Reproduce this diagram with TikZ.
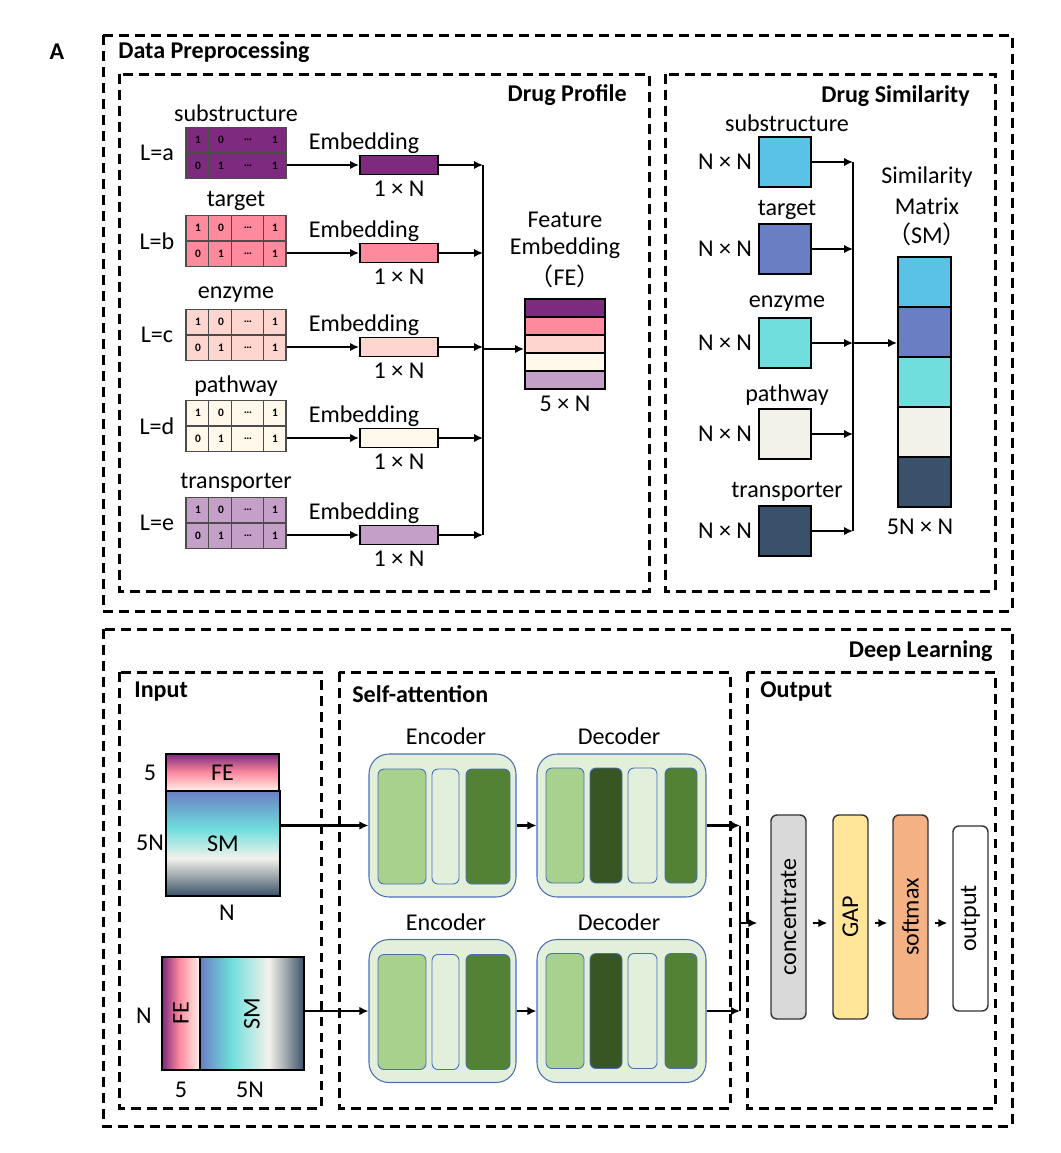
\documentclass[tikz,border=0pt]{standalone}
\usepackage{graphicx}
\usepackage{fontspec}
\setmainfont{Carlito}
\newfontfamily\cjk{Noto Sans CJK SC}
\usetikzlibrary{arrows.meta,positioning}
\newcommand{\pxu}{0.2mm}
\definecolor{cSub}{HTML}{7D2A7F}
\definecolor{cTar}{HTML}{FF8A9E}
\definecolor{cEnz}{HTML}{FFD6CF}
\definecolor{cPath}{HTML}{FFF8EB}
\definecolor{cTrans}{HTML}{C4A0C9}
\definecolor{cCream}{HTML}{FFF1EA}
\definecolor{cSky}{HTML}{5BC2E7}
\definecolor{cSlate}{HTML}{6A7FC3}
\definecolor{cTurq}{HTML}{6FDEDD}
\definecolor{cOff}{HTML}{F2F2EB}
\definecolor{cDark}{HTML}{39516A}
\definecolor{cGrey}{HTML}{A3ABB0}
\definecolor{cEncBg}{HTML}{E2EFDA}
\definecolor{cEncLine}{HTML}{4A6FB5}
\definecolor{cLight}{HTML}{A9D18E}
\definecolor{cMid}{HTML}{548235}
\definecolor{cDeep}{HTML}{375623}
\definecolor{cConc}{HTML}{D9D9D9}
\definecolor{cGap}{HTML}{FFE699}
\definecolor{cSoft}{HTML}{F4B183}
% gradients of the input matrices
\pgfdeclareverticalshading{feVert}{100bp}{color(0bp)=(cCream); color(25bp)=(cCream); color(50bp)=(cTar); color(75bp)=(cSub); color(100bp)=(cSub)}
\pgfdeclarehorizontalshading{feHorz}{100bp}{color(0bp)=(cSub); color(25bp)=(cSub); color(48bp)=(cTar); color(75bp)=(cCream); color(100bp)=(cCream)}
\pgfdeclareverticalshading{smVert}{100bp}{color(0bp)=(cDark); color(25bp)=(cDark); color(35bp)=(cGrey); color(43bp)=(cOff); color(57bp)=(cTurq); color(75bp)=(cSlate); color(100bp)=(cSlate)}
\pgfdeclarehorizontalshading{smHorz}{100bp}{color(0bp)=(cSlate); color(25bp)=(cSlate); color(40bp)=(cTurq); color(58bp)=(cOff); color(66bp)=(cGrey); color(75bp)=(cDark); color(100bp)=(cDark)}
\begin{document}
\begin{tikzpicture}
  [x=\pxu, y=-\pxu, font=\fontsize{13.7}{16}\selectfont,
   frame/.style={draw, line width=0.6mm, dash pattern=on 1.9mm off 1.3mm},
   title/.style={font=\fontsize{13.7}{16}\selectfont\bfseries, inner sep=0},
   mat/.style={draw=black!70, line width=0.6pt, minimum width=100*\pxu, minimum height=51*\pxu, inner sep=0},
   grid/.style={draw=black!70, line width=0.6pt},
   cell/.style={font=\fontsize{6.5}{7}\selectfont\bfseries, inner sep=0},
   emb/.style={draw, line width=1.1pt, minimum width=78*\pxu, minimum height=19*\pxu, inner sep=0},
   stack/.style={draw, line width=1.1pt, minimum width=80*\pxu, minimum height=18*\pxu, inner sep=0},
   simbox/.style={draw, line width=1.1pt, minimum width=52*\pxu, minimum height=50*\pxu, inner sep=0},
   inbox/.style={draw, line width=1.1pt, inner sep=0},
   encbg/.style={draw=cEncLine, fill=cEncBg, line width=0.6pt, rounded corners=4mm, inner sep=0},
   blk/.style={draw=cEncLine, line width=0.5pt, rounded corners=1.2mm, inner sep=0},
   outbox/.style={draw=black!80, line width=0.8pt, rounded corners=1.2mm, minimum width=35*\pxu, inner sep=0},
   bus/.style={line width=1.3pt},
   arr/.style={-{Latex[length=1.8mm,width=1.7mm]}, line width=1.3pt}]
\useasboundingbox (0,0) rectangle (1061,1153);
% frames
\draw [frame] (103,35) rectangle (1012,611);
\draw [frame] (119,74) rectangle (649,591);
\draw [frame] (665,74) rectangle (995,591);
\draw [frame] (103,629) rectangle (1012,1126);
\draw [frame] (119,672) rectangle (321,1108);
\draw [frame] (339,672) rectangle (730,1108);
\draw [frame] (747,672) rectangle (995,1108);
\node at (57,52) (tA) [title] {A};
\node at (118,52) (tData) [title, anchor=west] {Data Preprocessing};
\node at (627,95) (tProf) [title, anchor=east] {Drug Profile};
\node at (970,96) (tSim) [title, anchor=east] {Drug Similarity};
\node at (993,651) (tDeep) [title, anchor=east] {Deep Learning};
\node at (134,692) (tIn) [title, anchor=west] {Input};
\node at (352,694) (tAtt) [title, anchor=west] {Self-attention};
\node at (760,691) (tOut) [title, anchor=west] {Output};
%
% drug profile
\foreach \n/\y/\col/\lab/\ltr in {1/153/cSub/substructure/a, 2/241/cTar/target/b,
    3/335/cEnz/enzyme/c, 4/426/cPath/pathway/d, 5/523/cTrans/transporter/e}{
  \node at (236,\y) (m\n) [mat, fill=\col] {};
  \draw [grid] (m\n.west) -- (m\n.east);
  \foreach \cx in {23,46,78}
    \draw [grid] ([xshift=\cx*\pxu]m\n.north west) -- ([xshift=\cx*\pxu]m\n.south west);
  \node at (198,\y-13) (c\n a) [cell] {1};
  \node at (221,\y-13) (c\n b) [cell] {0};
  \node at (248,\y-13) (c\n c) [cell] {…};
  \node at (275,\y-13) (c\n d) [cell] {1};
  \node at (198,\y+13) (c\n e) [cell] {0};
  \node at (221,\y+13) (c\n f) [cell] {1};
  \node at (248,\y+13) (c\n g) [cell] {…};
  \node at (275,\y+13) (c\n h) [cell] {1};
  \node at (236,\y-40) (ml\n) {\lab};
  \node at (157,\y) (mL\n) {L=\ltr};
  \node at (399,\y+12) (e\n) [emb, fill=\col] {};
  \node at (364,\y-10) (el\n) {Embedding};
  \node at (399,\y+36) (en\n) {1 × N};
  \coordinate (b\n) at (483,\y+12);
  \draw [arr] (m\n.east |- e\n) -- (e\n.west);
  \draw [arr] (e\n.east) -- (b\n);
}
\draw [bus] (b1) -- (b5);
\foreach \k/\col in {1/cSub,2/cTar,3/cEnz,4/cPath,5/cTrans}
  \node at (565,290+18*\k) (fe\k) [stack, fill=\col] {};
\coordinate (bj) at (483,349);
\draw [arr] (bj) -- (fe3.west |- bj);
\node at (565,220) (feA) {Feature};
\node at (565,248) (feB) {Embedding};
\node at (565,276) (feC) {{\cjk （}FE{\cjk ）}};
\node at (565,404) (feD) {5 × N};
%
% drug similarity
\foreach \k/\y/\col/\lab in {1/162/cSky/substructure, 2/249/cSlate/target,
    3/343/cTurq/enzyme, 4/434/cOff/pathway, 5/531/cDark/transporter}{
  \node at (785,\y) (s\k) [simbox, fill=\col] {};
  \node at (787,\y-39) (sl\k) {\lab};
  \node at (725,\y) (sn\k) {N × N};
  \coordinate (sb\k) at (853,\y);
  \draw [arr] (s\k.east) -- (sb\k);
}
\draw [bus] (sb1) -- (sb5);
\foreach \k/\col in {1/cSky,2/cSlate,3/cTurq,4/cOff,5/cDark}
  \node at (924.5,232+50*\k) (sm\k) [simbox, minimum width=53*\pxu, fill=\col] {};
\draw [arr] (sb3) -- (sm2.west |- sb3);
\node at (927,177) (smA) {Similarity};
\node at (927,206) (smB) {Matrix};
\node at (927,234) (smC) {{\cjk （}SM{\cjk ）}};
\node at (920,527) (smD) {5N × N};
%
% input
\node at (222.5,772.5) (feTop) [inbox, shading=feVert, minimum width=113*\pxu, minimum height=37*\pxu] {FE};
\node at (223,843.5) (smTop) [inbox, shading=smVert, minimum width=114*\pxu, minimum height=105*\pxu] {SM};
\node at (181,1013.5) (feSide) [inbox, shading=feHorz, minimum width=38*\pxu, minimum height=113*\pxu] {\rotatebox{90}{FE}};
\node at (252,1013.5) (smSide) [inbox, shading=smHorz, minimum width=104*\pxu, minimum height=113*\pxu] {\rotatebox{90}{SM}};
\node at (150,773) (dA) {5};
\node at (150,843) (dB) {5N};
\node at (227,913) (dC) {N};
\node at (144,1016) (dD) {N};
\node at (181,1090) (dE) {5};
\node at (250,1090) (dF) {5N};
%
% self-attention
\foreach \k/\y in {1/825.5, 2/1011}{
  \node at (442.5,\y) (enc\k) [encbg, minimum width=147*\pxu, minimum height=143*\pxu] {};
  \node at (402,\y+1) (enc\k a) [blk, fill=cLight, minimum width=48*\pxu, minimum height=115*\pxu] {};
  \node at (445.5,\y+1) (enc\k b) [blk, fill=cEncBg, minimum width=27*\pxu, minimum height=115*\pxu] {};
  \node at (488,\y+1) (enc\k c) [blk, fill=cMid, minimum width=44*\pxu, minimum height=115*\pxu] {};
  \node at (446,\y-89) (encl\k) {Encoder};
  \node at (621.5,\y) (dec\k) [encbg, minimum width=169*\pxu, minimum height=143*\pxu] {};
  \node at (565,\y) (dec\k a) [blk, fill=cLight, minimum width=38*\pxu, minimum height=115*\pxu] {};
  \node at (606,\y) (dec\k b) [blk, fill=cDeep, minimum width=32*\pxu, minimum height=115*\pxu] {};
  \node at (642.5,\y) (dec\k c) [blk, fill=cEncBg, minimum width=29*\pxu, minimum height=115*\pxu] {};
  \node at (681,\y) (dec\k d) [blk, fill=cMid, minimum width=32*\pxu, minimum height=115*\pxu] {};
  \node at (619,\y-89) (decl\k) {Decoder};
  \coordinate (db\k) at (740,\y);
  \draw [arr] (enc\k.east) -- (dec\k.west);
  \draw [arr] (dec\k.east) -- (db\k);
}
\draw [arr] (smTop.east |- enc1.west) -- (enc1.west);
\draw [arr] (smSide.east |- enc2.west) -- (enc2.west);
\draw [bus] (db1) -- (db2);
%
% output
\node at (788.5,917) (conc) [outbox, fill=cConc, minimum height=204*\pxu] {\rotatebox{90}{concentrate}};
\node at (850.5,917) (gap) [outbox, fill=cGap, minimum height=204*\pxu] {\rotatebox{90}{GAP}};
\node at (910.5,917) (soft) [outbox, fill=cSoft, minimum height=204*\pxu] {\rotatebox{90}{softmax}};
\node at (970.5,918.5) (out) [outbox, fill=white, minimum height=185*\pxu] {\rotatebox{90}{output}};
\coordinate (dj) at (740,923);
\draw [arr, shorten >=2.6mm] (dj) -- (conc.west |- dj);
\draw [arr, shorten <=1.2mm, shorten >=1mm] (conc.east |- dj) -- (gap.west |- dj);
\draw [arr, shorten <=1.2mm, shorten >=1mm] (gap.east |- dj) -- (soft.west |- dj);
\draw [arr, shorten <=1.2mm, shorten >=1mm] (soft.east |- dj) -- (out.west |- dj);
\end{tikzpicture}
\end{document}
